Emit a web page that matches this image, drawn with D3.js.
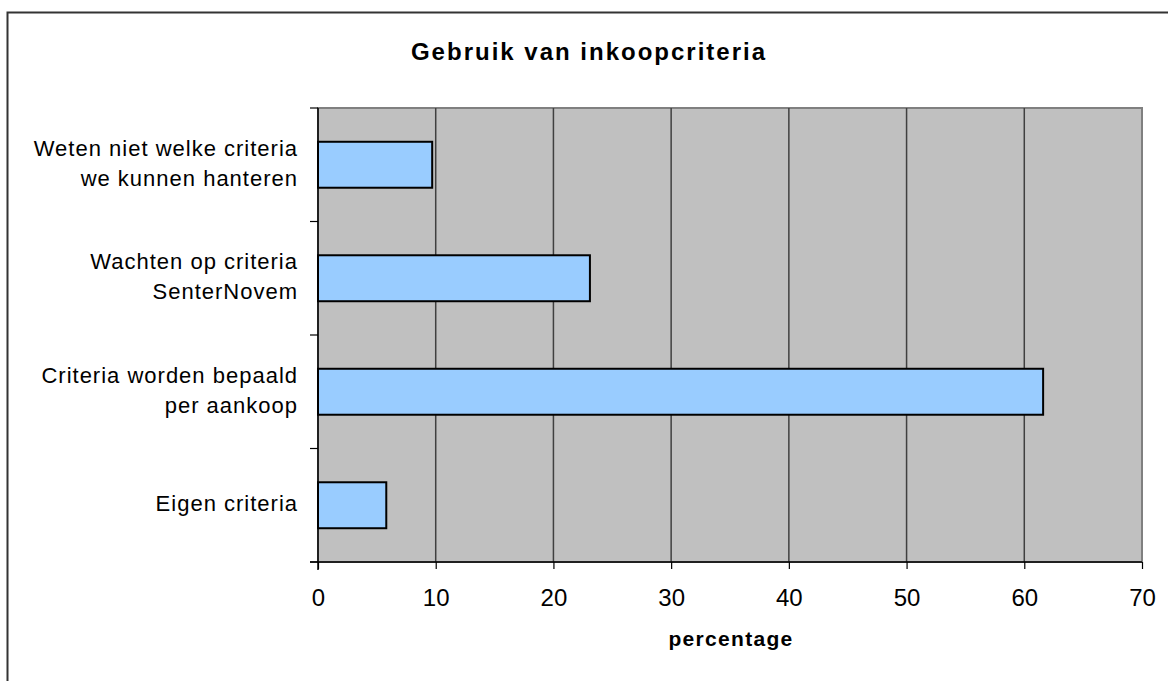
<!DOCTYPE html>
<html>
<head>
<meta charset="utf-8">
<script src="https://cdn.jsdelivr.net/npm/d3@7"></script>
<style>
  body { margin: 0; background: #fff; }
  text { font-family: "Liberation Sans", Arial, sans-serif; fill: #000; }
</style>
</head>
<body>
<svg id="chart" width="1168" height="681"></svg>
<script>
// data
var categories = [
  ["Weten niet welke criteria", "we kunnen hanteren"],
  ["Wachten op criteria", "SenterNovem"],
  ["Criteria worden bepaald", "per aankoop"],
  ["Eigen criteria"]
];
var values = [9.7, 23.1, 61.6, 5.8];
var xTicks = [0, 10, 20, 30, 40, 50, 60, 70];

var svg = d3.select("#chart");

// outer frame
svg.append("rect")
    .attr("x", 7.5).attr("y", 12.5)
    .attr("width", 1200).attr("height", 700)
    .attr("fill", "none")
    .attr("stroke", "#333")
    .attr("stroke-width", 2);

var plotLeft = 318, plotRight = 1142, plotTop = 108, plotBottom = 562;

var x = d3.scaleLinear()
    .domain([0, 70])
    .range([plotLeft, plotRight]);
var y = d3.scaleBand()
    .domain(d3.range(categories.length))
    .range([plotTop, plotBottom])
    .paddingInner(0.595)
    .paddingOuter(0.2975);

// plot background
svg.append("rect")
    .attr("x", plotLeft).attr("y", plotTop)
    .attr("width", plotRight - plotLeft).attr("height", plotBottom - plotTop)
    .attr("fill", "#c0c0c0")
    .attr("stroke", "#808080")
    .attr("stroke-width", 2);

// gridlines
svg.append("g")
  .selectAll("line")
  .data(xTicks.slice(1, -1))
  .enter().append("line")
    .attr("x1", function(d) { return x(d); })
    .attr("x2", function(d) { return x(d); })
    .attr("y1", plotTop).attr("y2", plotBottom)
    .attr("stroke", "#404040")
    .attr("stroke-width", 1.5);

// bars
svg.append("g")
  .selectAll("rect")
  .data(values)
  .enter().append("rect")
    .attr("x", x(0))
    .attr("y", function(d, i) { return y(i); })
    .attr("width", function(d) { return x(d) - x(0); })
    .attr("height", y.bandwidth())
    .attr("fill", "#99ccff")
    .attr("stroke", "#000")
    .attr("stroke-width", 2);

// x axis
var xAxis = svg.append("g")
    .attr("transform", "translate(0," + plotBottom + ")")
    .call(d3.axisBottom(x).tickValues(xTicks).tickSize(7).tickSizeOuter(0).tickPadding(20));
xAxis.select(".domain").attr("stroke", "#000").attr("stroke-width", 1.5)
    .attr("d", "M" + (plotLeft - 8) + ",0H" + plotRight);
xAxis.selectAll(".tick line").attr("stroke", "#000").attr("stroke-width", 1.2);
xAxis.selectAll(".tick text")
    .style("font-family", "'Liberation Sans', Arial, sans-serif")
    .style("font-size", "24px");

// y axis line + ticks at band boundaries
var yEdges = d3.range(categories.length + 1).map(function(i) {
  return plotTop + i * (plotBottom - plotTop) / categories.length;
});
svg.append("line")
    .attr("x1", plotLeft).attr("x2", plotLeft)
    .attr("y1", plotTop).attr("y2", plotBottom + 8)
    .attr("stroke", "#000").attr("stroke-width", 1.5);
svg.append("g")
  .selectAll("line")
  .data(yEdges)
  .enter().append("line")
    .attr("x1", plotLeft - 8).attr("x2", plotLeft)
    .attr("y1", function(d) { return d; })
    .attr("y2", function(d) { return d; })
    .attr("stroke", "#000").attr("stroke-width", 1.2);

// category labels
var lineGap = 30;
var labels = svg.append("g")
  .selectAll("text")
  .data(categories)
  .enter().append("text")
    .attr("x", 298)
    .attr("y", function(d, i) { return y(i) + y.bandwidth() / 2; })
    .attr("text-anchor", "end")
    .style("font-size", "22px")
    .style("letter-spacing", "1px");
labels.each(function(d) {
  var t = d3.select(this);
  var n = d.length;
  d.forEach(function(line, j) {
    t.append("tspan")
        .attr("x", 298)
        .attr("dy", j === 0 ? (-(n - 1) / 2 * lineGap + 6) : lineGap)
        .text(line);
  });
});

// title
svg.append("text")
    .attr("x", 589).attr("y", 60)
    .attr("text-anchor", "middle")
    .style("font-size", "24px")
    .style("font-weight", "bold")
    .style("letter-spacing", "2px")
    .text("Gebruik van inkoopcriteria");

// axis title
svg.append("text")
    .attr("x", 731).attr("y", 646)
    .attr("text-anchor", "middle")
    .style("font-size", "21px")
    .style("font-weight", "bold")
    .style("letter-spacing", "1.3px")
    .text("percentage");
</script>
</body>
</html>
